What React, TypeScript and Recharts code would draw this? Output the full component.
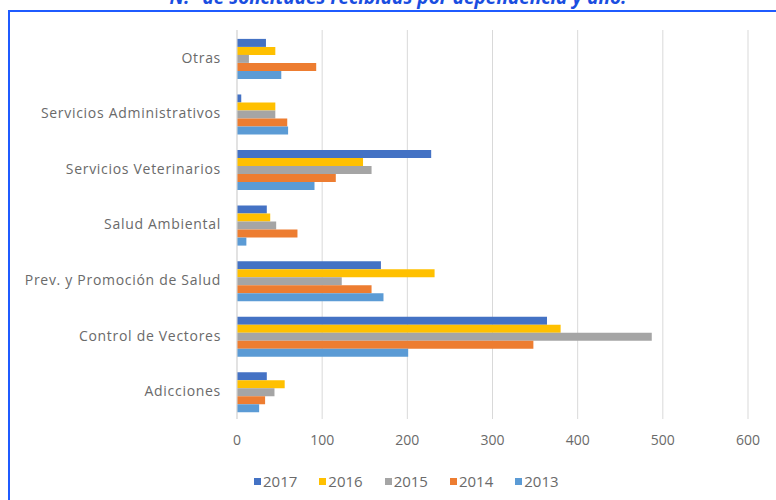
import { BarChart, Bar, XAxis, YAxis, CartesianGrid, Legend } from 'recharts'

const categories = [
  'Otras',
  'Servicios Administrativos',
  'Servicios Veterinarios',
  'Salud Ambiental',
  'Prev. y Promoción de Salud',
  'Control de Vectores',
  'Adicciones',
]

const y2017 = [34, 5, 228, 35, 169, 364, 35]
const y2016 = [45, 45, 148, 39, 232, 380, 56]
const y2015 = [14, 45, 158, 46, 123, 487, 44]
const y2014 = [93, 59, 116, 71, 158, 348, 33]
const y2013 = [52, 60, 91, 11, 172, 201, 26]

const xTicks = [0, 100, 200, 300, 400, 500, 600]

const SERIES = [
  { key: '2017', color: '#4472C4' },
  { key: '2016', color: '#FFC000' },
  { key: '2015', color: '#A5A5A5' },
  { key: '2014', color: '#ED7D31' },
  { key: '2013', color: '#5B9BD5' },
]

const data = categories.map((name, i) => ({
  name,
  '2017': y2017[i],
  '2016': y2016[i],
  '2015': y2015[i],
  '2014': y2014[i],
  '2013': y2013[i],
}))

const TEXT = '#6a6a6a'
const FONT = '"Open Sans", sans-serif'

const renderLegend = () => (
  <div style={{ display: 'flex', fontFamily: FONT, fontSize: 15, color: TEXT, lineHeight: '16px' }}>
    {SERIES.map((s) => (
      <div key={s.key} style={{ display: 'flex', alignItems: 'center', marginRight: 22 }}>
        <span style={{ width: 7, height: 7, background: s.color, marginRight: 2, display: 'inline-block' }} />
        <span>{s.key}</span>
      </div>
    ))}
  </div>
)

export default function App() {
  return (
    <div
      style={{
        position: 'fixed',
        top: 0,
        left: 0,
        width: 776,
        height: 500,
        overflow: 'hidden',
        background: '#ffffff',
        fontFamily: FONT,
      }}
    >
      <div
        style={{
          position: 'absolute',
          top: -14,
          left: 0,
          width: 796,
          textAlign: 'center',
          color: '#1a4ee0',
          fontWeight: 700,
          fontStyle: 'italic',
          fontSize: 19,
          lineHeight: '22px',
        }}
      >
        N.° de solicitudes recibidas por dependencia y año.
      </div>
      <div
        style={{
          position: 'absolute',
          top: 10,
          left: 8,
          width: 820,
          height: 540,
          border: '2px solid #1f5bff',
        }}
      />
      <div style={{ position: 'absolute', top: 0, left: 0 }}>
        <BarChart
          width={776}
          height={500}
          data={data}
          layout="vertical"
          margin={{ top: 30, right: 28, bottom: 50, left: 0 }}
          barCategoryGap="16%"
          barGap={0}
        >
          <CartesianGrid horizontal={false} stroke="#d9d9d9" />
          <XAxis
            type="number"
            domain={[0, 600]}
            ticks={xTicks}
            height={31}
            tickLine={false}
            axisLine={false}
            tickSize={0}
            tickMargin={16}
            tick={{ fontSize: 14, fill: TEXT, fontFamily: FONT }}
          />
          <YAxis
            type="category"
            dataKey="name"
            width={237}
            tickLine={false}
            axisLine={{ stroke: '#d9d9d9' }}
            tickSize={0}
            tickMargin={16}
            interval={0}
            tick={{ fontSize: 14, fill: TEXT, fontFamily: FONT, letterSpacing: 0.7 }}
          />
          <Legend
            verticalAlign="middle"
            layout="horizontal"
            align="center"
            wrapperStyle={{ position: 'absolute', left: 254, top: 473, width: 400 }}
            content={renderLegend}
          />
          {SERIES.map((s) => (
            <Bar key={s.key} dataKey={s.key} fill={s.color} isAnimationActive={false} />
          ))}
        </BarChart>
      </div>
    </div>
  )
}
